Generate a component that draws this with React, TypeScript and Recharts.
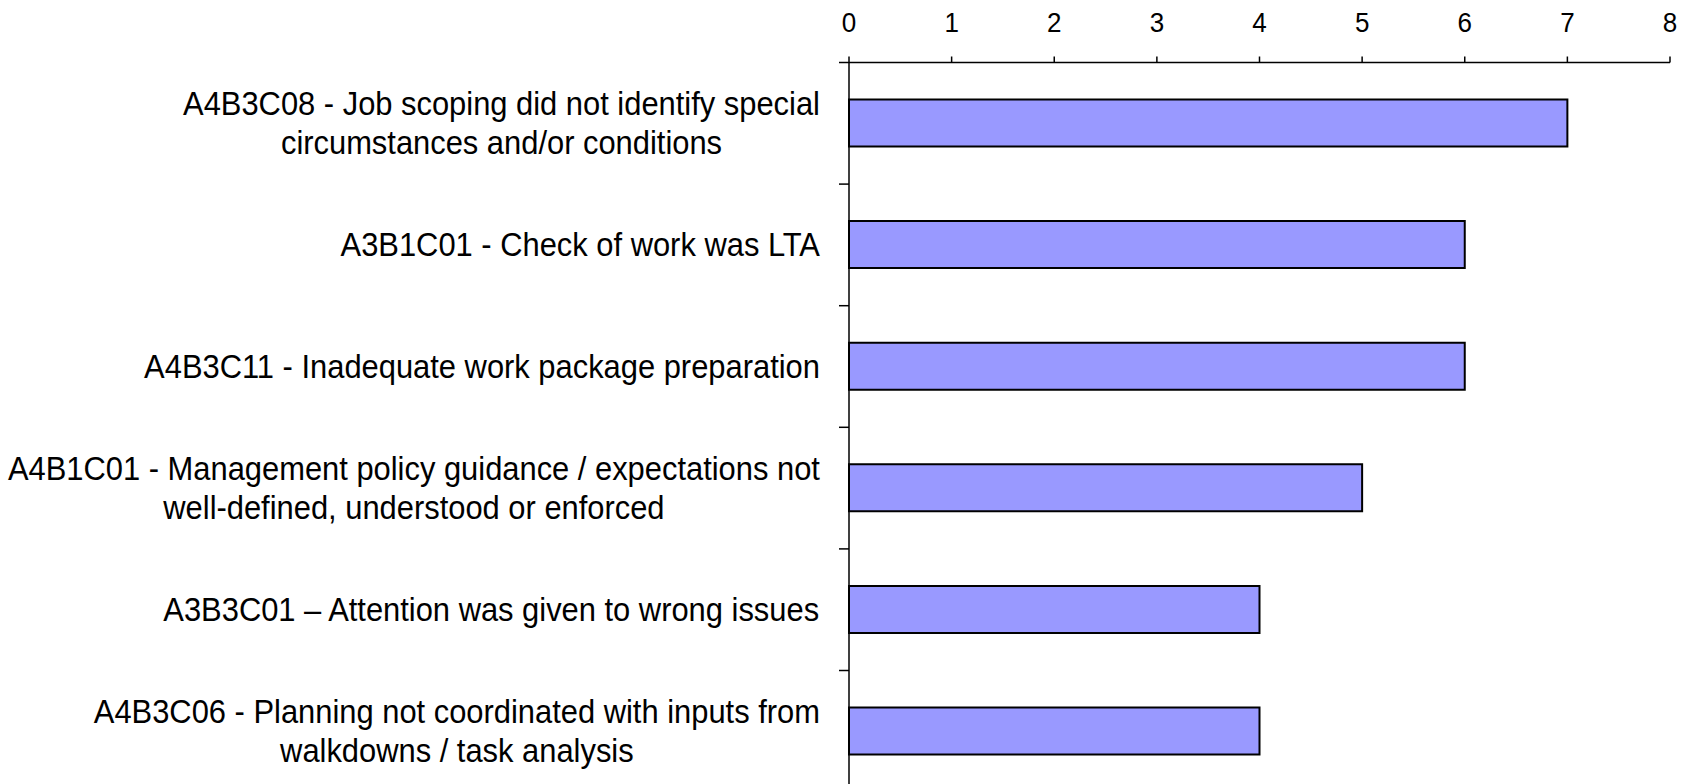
import React from 'react';
import { BarChart, Bar, XAxis, YAxis } from 'recharts';

const categories = [
  'A4B3C08 - Job scoping did not identify special\ncircumstances and/or conditions',
  'A3B1C01 - Check of work was LTA',
  'A4B3C11 - Inadequate work package preparation',
  'A4B1C01 - Management policy guidance / expectations not\nwell-defined, understood or enforced',
  'A3B3C01 \u2013 Attention was given to wrong issues',
  'A4B3C06 - Planning not coordinated with inputs from\nwalkdowns / task analysis',
];
const counts = [7, 6, 6, 5, 4, 4];
const xTicks = [0, 1, 2, 3, 4, 5, 6, 7, 8];

const data = categories.map((name, i) => ({ name, value: counts[i] }));

const FONT = "'Liberation Sans', Arial, Helvetica, sans-serif";
const LABEL_SIZE = 33;
const LINE_H = 39;
const SX = 0.936;

const CHART_W = 1688;
const CHART_H = 800;
const X_AXIS_H = 40;
const MARGIN = { top: 22.5, right: 18, left: 0, bottom: 7.9 };
const PLOT_H = CHART_H - MARGIN.top - X_AXIS_H - MARGIN.bottom;
const BAND = PLOT_H / categories.length;
const Y_TICK_SIZE = 10;
const Y_TICK_MARGIN = 19;

let ctx: CanvasRenderingContext2D | null = null;
function measure(s: string, font: string): number {
  if (!ctx) ctx = document.createElement('canvas').getContext('2d');
  if (!ctx) return s.length * 16;
  ctx.font = font;
  return ctx.measureText(s).width;
}

const CategoryTick = (props: any) => {
  const { x, y, payload, index } = props;
  const lines: string[] = String(payload.value).split('\n');
  const w = Math.max(...lines.map((l) => measure(l, `${LABEL_SIZE}px 'Liberation Sans'`)));
  const n = lines.length;
  const axisX = x + Y_TICK_MARGIN + Y_TICK_SIZE;
  const isLast = index === categories.length - 1;
  return (
    <g>
      <line x1={axisX - Y_TICK_SIZE} x2={axisX} y1={y - BAND / 2} y2={y - BAND / 2} stroke="#000" strokeWidth={1.5} />
      {isLast && (
        <line x1={axisX - Y_TICK_SIZE} x2={axisX} y1={y + BAND / 2} y2={y + BAND / 2} stroke="#000" strokeWidth={1.5} />
      )}
      <g transform={`translate(${x},${y}) scale(${SX},1)`}>
        {lines.map((l, i) => (
          <text
            key={i}
            x={-w / 2}
            y={(i - (n - 1) / 2) * LINE_H}
            textAnchor="middle"
            dominantBaseline="central"
            fontFamily={FONT}
            fontSize={LABEL_SIZE}
            fill="#000"
          >
            {l}
          </text>
        ))}
      </g>
    </g>
  );
};

const ValueTick = (props: any) => {
  const { x, y, payload } = props;
  return (
    <g transform={`translate(${x},${y}) scale(0.93,1)`}>
      <text x={0} y={0} textAnchor="middle" fontFamily={FONT} fontSize={28} fill="#000">
        {payload.value}
      </text>
    </g>
  );
};

export default function App() {
  return (
    <div
      style={{
        position: 'fixed',
        left: 0,
        top: 0,
        width: 1688,
        height: 784,
        overflow: 'hidden',
        background: '#fff',
      }}
    >
      <BarChart
        width={CHART_W}
        height={CHART_H}
        data={data}
        layout="vertical"
        margin={MARGIN}
        barCategoryGap="30%"
      >
        <XAxis
          type="number"
          orientation="top"
          domain={[0, 8]}
          ticks={xTicks}
          interval={0}
          height={X_AXIS_H}
          tickSize={6}
          tickMargin={24.5}
          axisLine={{ stroke: '#000', strokeWidth: 1.5 }}
          tickLine={{ stroke: '#000', strokeWidth: 1.5 }}
          tick={<ValueTick />}
        />
        <YAxis
          type="category"
          dataKey="name"
          width={849}
          axisLine={{ stroke: '#000', strokeWidth: 1.5 }}
          tickLine={false}
          tickSize={Y_TICK_SIZE}
          tickMargin={Y_TICK_MARGIN}
          interval={0}
          tick={<CategoryTick />}
        />
        <Bar
          dataKey="value"
          fill="#9999FF"
          stroke="#000"
          strokeWidth={2}
          barSize={47}
          isAnimationActive={false}
        />
      </BarChart>
    </div>
  );
}
